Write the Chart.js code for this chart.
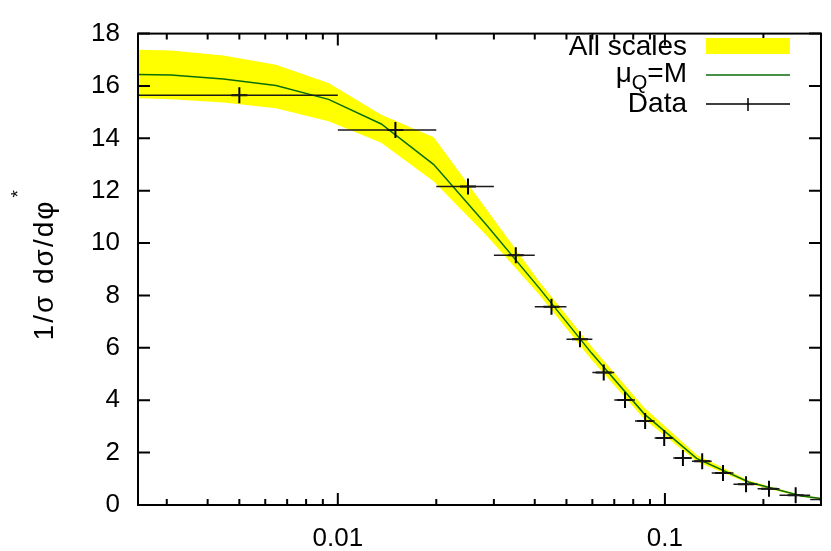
<!DOCTYPE html>
<html>
<head>
<meta charset="utf-8">
<script src="https://cdn.jsdelivr.net/npm/chart.js"></script>
<style>
    html, body { margin: 0; padding: 0; background: #fff; }
</style>
</head>
<body>
<canvas id="mycanvas" width="831" height="551"></canvas>
<script>
// theory grid in phi* and the curves
var theoryX = [0.00213, 0.00309, 0.00447, 0.00647, 0.00937, 0.01358, 0.01965, 0.02844, 0.04117, 0.05966, 0.0864, 0.125, 0.181, 0.262, 0.38];
var centralY = [16.45, 16.42, 16.27, 16.02, 15.49, 14.55, 13.0, 10.7, 8.3, 5.8, 3.48, 1.78, 0.87, 0.34, 0.10];
var bandUp = [17.40, 17.35, 17.16, 16.81, 16.11, 14.90, 14.04, 11.3, 8.55, 6.05, 3.72, 1.92, 0.93, 0.37, 0.12];
var bandLow = [15.55, 15.49, 15.37, 15.15, 14.65, 13.83, 12.35, 10.3, 8.05, 5.55, 3.28, 1.66, 0.81, 0.31, 0.08];

// measured data: bin centre, bin edges, value
var dataX = [0.005, 0.015, 0.025, 0.035, 0.045, 0.055, 0.065, 0.0755, 0.087, 0.0995, 0.1135, 0.130, 0.1505, 0.177, 0.208, 0.251, 0.314];
var binLow = [0, 0.01, 0.02, 0.03, 0.04, 0.05, 0.06, 0.07, 0.081, 0.093, 0.106, 0.121, 0.139, 0.162, 0.192, 0.224, 0.278];
var binHigh = [0.01, 0.02, 0.03, 0.04, 0.05, 0.06, 0.07, 0.081, 0.093, 0.106, 0.121, 0.139, 0.162, 0.192, 0.224, 0.278, 0.35];
var dataY = [15.65, 14.32, 12.16, 9.54, 7.57, 6.33, 5.06, 4.01, 3.21, 2.56, 1.79, 1.67, 1.22, 0.79, 0.62, 0.37, 0.21];

// axis ticks
var xMajor = [0.01, 0.1];
var xMinor = [0.003, 0.004, 0.005, 0.006, 0.007, 0.008, 0.009, 0.02, 0.03, 0.04, 0.05, 0.06, 0.07, 0.08, 0.09, 0.2, 0.3];

var FONT = '"Liberation Sans", Arial, sans-serif';
Chart.defaults.font.family = FONT;
Chart.defaults.color = '#000';

function pts(xs, ys) {
    var out = [];
    for (var i in xs) out.push({ x: xs[i], y: ys[i] });
    return out;
}

var chartArt = {
    id: 'chartArt',
    afterDatasetsDraw: function (chart) {
        var c = chart.ctx, a = chart.chartArea, xs = chart.scales.x, ys = chart.scales.y;

        // horizontal bin-width bars for the data
        c.save();
        c.beginPath();
        c.rect(a.left, a.top, a.right - a.left, a.bottom - a.top);
        c.clip();
        c.strokeStyle = '#1a1a1a';
        c.lineWidth = 1.5;
        for (var i in dataY) {
            var py = ys.getPixelForValue(dataY[i]);
            c.beginPath();
            c.moveTo(xs.getPixelForValue(Math.max(binLow[i], xs.min)), py);
            c.lineTo(xs.getPixelForValue(binHigh[i]), py);
            c.stroke();
        }
        c.restore();

        // frame with inward ticks on all sides
        c.save();
        c.strokeStyle = '#000';
        c.lineWidth = 2;
        c.strokeRect(a.left, a.top, a.right - a.left, a.bottom - a.top);
        c.beginPath();
        ys.ticks.forEach(function (t) {
            var p = ys.getPixelForValue(t.value);
            c.moveTo(a.left, p); c.lineTo(a.left + 12, p);
            c.moveTo(a.right, p); c.lineTo(a.right - 12, p);
        });
        xMajor.forEach(function (v) {
            var p = xs.getPixelForValue(v);
            c.moveTo(p, a.bottom); c.lineTo(p, a.bottom - 12);
            c.moveTo(p, a.top); c.lineTo(p, a.top + 12);
        });
        xMinor.forEach(function (v) {
            var p = xs.getPixelForValue(v);
            c.moveTo(p, a.bottom); c.lineTo(p, a.bottom - 6);
            c.moveTo(p, a.top); c.lineTo(p, a.top + 6);
        });
        c.stroke();
        c.restore();
    },
    afterDraw: function (chart) {
        var c = chart.ctx;
        c.save();
        c.fillStyle = '#000';

        // y title, rotated, with raised star
        c.translate(45, 270);
        c.rotate(-Math.PI / 2);
        c.font = '28px ' + FONT;
        c.letterSpacing = '2px';
        c.textBaseline = 'middle';
        c.textAlign = 'left';
        var main = '1/σ dσ/dφ';
        var w = c.measureText(main).width;
        c.fillText(main, -w / 2, 0);
        c.font = '19px ' + FONT;
        c.fillText('*', w / 2 + 2, -26);
        c.restore();

        // legend
        c.save();
        c.fillStyle = '#000';
        c.font = '28px ' + FONT;
        c.textBaseline = 'middle';
        c.textAlign = 'right';
        c.fillText('All scales', 687, 47);
        c.fillStyle = '#ffff00';
        c.fillRect(706, 38, 84, 16);

        c.fillStyle = '#000';
        c.textAlign = 'left';
        var wMu = c.measureText('μ').width;
        var wEq = c.measureText('=M').width;
        c.font = '20px ' + FONT;
        var wQ = c.measureText('Q').width;
        var x0 = 687 - wMu - wQ - wEq;
        c.font = '28px ' + FONT;
        c.fillText('μ', x0, 74);
        c.fillText('=M', x0 + wMu + wQ, 74);
        c.font = '20px ' + FONT;
        c.fillText('Q', x0 + wMu, 83);

        c.strokeStyle = '#0a6e0a';
        c.lineWidth = 1.5;
        c.beginPath(); c.moveTo(706, 75); c.lineTo(790, 75); c.stroke();

        c.font = '28px ' + FONT;
        c.textAlign = 'right';
        c.fillText('Data', 687, 104);
        c.strokeStyle = '#000';
        c.beginPath();
        c.moveTo(706, 104); c.lineTo(790, 104);
        c.moveTo(748, 98); c.lineTo(748, 111);
        c.stroke();
        c.restore();
    }
};

var ctx = document.getElementById('mycanvas');
var chart = new Chart(ctx, {
    type: 'line',
    data: {
        datasets: [
            {
                label: 'All scales',
                data: pts(theoryX, bandUp),
                borderWidth: 0,
                borderColor: 'rgba(0,0,0,0)',
                backgroundColor: '#ffff00',
                pointRadius: 0,
                fill: '+1',
                order: 3
            },
            {
                label: 'band low',
                data: pts(theoryX, bandLow),
                borderWidth: 0,
                borderColor: 'rgba(0,0,0,0)',
                pointRadius: 0,
                fill: false,
                order: 2
            },
            {
                label: 'μQ=M',
                data: pts(theoryX, centralY),
                borderColor: '#0a6e0a',
                borderWidth: 1.5,
                pointRadius: 0,
                fill: false,
                order: 1
            },
            {
                label: 'Data',
                data: pts(dataX, dataY),
                showLine: false,
                pointStyle: 'cross',
                pointRadius: 8,
                borderColor: '#000',
                borderWidth: 2,
                clip: 0,
                order: 0
            }
        ]
    },
    options: {
        responsive: false,
        animation: false,
        events: [],
        layout: { padding: { top: 19, right: 6, left: 0, bottom: 0 } },
        plugins: { legend: { display: false }, tooltip: { enabled: false } },
        scales: {
            x: {
                type: 'logarithmic',
                min: 0.00245,
                max: 0.3,
                grid: { display: false, drawTicks: false },
                border: { display: false },
                afterBuildTicks: function (scale) {
                    scale.ticks = xMajor.map(function (v) { return { value: v, major: true }; });
                },
                afterFit: function (scale) { scale.height = 46; },
                ticks: {
                    autoSkip: false,
                    maxRotation: 0,
                    padding: 18,
                    font: { size: 26 },
                    callback: function (v) { return String(v); }
                }
            },
            y: {
                type: 'linear',
                min: 0,
                max: 18,
                grid: { display: false, drawTicks: false },
                border: { display: false },
                afterFit: function (scale) { scale.width = 138; },
                ticks: {
                    stepSize: 2,
                    padding: 18,
                    font: { size: 26 }
                }
            }
        }
    },
    plugins: [chartArt]
});
</script>
</body>
</html>
